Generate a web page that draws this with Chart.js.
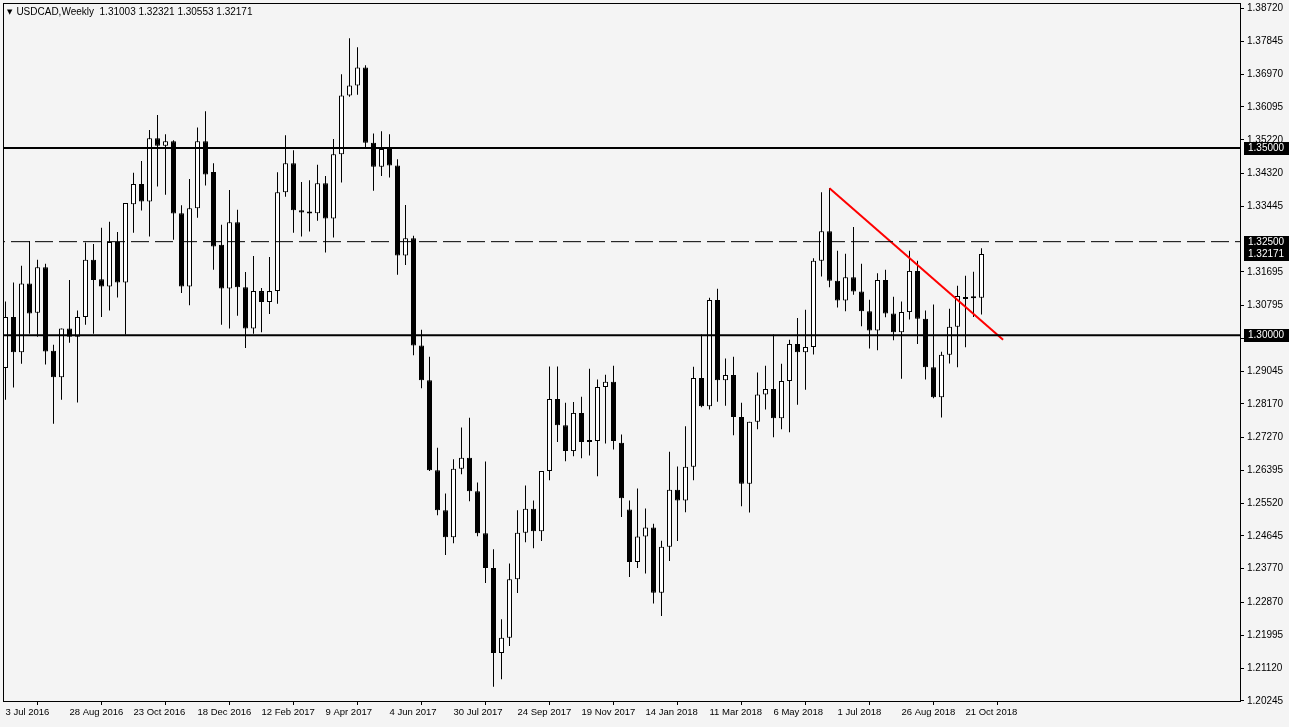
<!DOCTYPE html>
<html>
<head>
<meta charset="utf-8">
<script src="https://cdn.jsdelivr.net/npm/chart.js@4.4.1/dist/chart.umd.min.js"></script>
<style>
  html, body { margin: 0; padding: 0; background: #F4F4F4; }
  #wrap { position: relative; width: 1289px; height: 727px; }
  #title {
    position: absolute; left: 7px; top: 6px;
    font: 10px "Liberation Sans", "DejaVu Sans", sans-serif; color: #000;
    white-space: pre;
  }
  #title .tri { font: 7px "DejaVu Sans", sans-serif; position: relative; top: -1px; margin-right: 4px; }
</style>
</head>
<body>
<div id="wrap">
  <canvas id="chart" width="1289" height="727"></canvas>
  <div id="title"></div>
</div>
<script>
const symbol = 'USDCAD,Weekly';

// weekly candles, 3 Jul 2016 .. 4 Nov 2018
const opens = [
  1.2913,1.3049,1.2955,1.3138,1.3060,1.3182,1.2959,1.2888,1.3018,1.2996,
  1.3049,1.3202,1.3150,1.3130,1.3249,1.3141,1.3350,1.3404,1.3357,1.3526,
  1.3506,1.3518,1.3326,1.3130,1.3339,1.3518,1.3436,1.3242,1.3125,1.3302,
  1.3128,1.3018,1.3118,1.3089,1.3118,1.3382,1.3459,1.3334,1.3329,1.3326,
  1.3406,1.3312,1.3483,1.3640,1.3667,1.3715,1.3514,1.3450,1.3497,1.3453,
  1.3213,1.3259,1.2973,1.2880,1.2640,1.2533,1.2461,1.2644,1.2673,1.2584,
  1.2472,1.2379,1.2152,1.2193,1.2349,1.2473,1.2537,1.2477,1.2638,1.2830,
  1.2760,1.2691,1.2793,1.2719,1.2718,1.2862,1.2876,1.2713,1.2535,1.2395,
  1.2463,1.2487,1.2313,1.2436,1.2588,1.2559,1.2649,1.2886,1.2811,1.3094,
  1.2880,1.2894,1.2782,1.2604,1.2769,1.2842,1.2857,1.2779,1.2878,1.2977,
  1.2955,1.2969,1.3199,1.3278,1.3146,1.3093,1.3155,1.3117,1.3064,1.3013,
  1.3148,1.3058,1.3008,1.3062,1.3172,1.3044,1.2915,1.2835,1.2948,1.3023,
  1.3102,1.3104,1.31003
];
const highs = [
  1.3090,1.3141,1.3186,1.3252,1.3202,1.3191,1.2975,1.3018,1.3148,1.3066,
  1.3248,1.3244,1.3287,1.3303,1.3276,1.3353,1.3434,1.3465,1.3548,1.3588,
  1.3537,1.3521,1.3347,1.3417,1.3555,1.3598,1.3459,1.3295,1.3388,1.3335,
  1.3169,1.3212,1.3126,1.3209,1.3435,1.3534,1.3494,1.3409,1.3414,1.3455,
  1.3425,1.3524,1.3697,1.3793,1.3769,1.3721,1.3539,1.3545,1.3537,1.3470,
  1.3348,1.3266,1.3015,1.2943,1.2700,1.2578,1.2669,1.2754,1.2780,1.2607,
  1.2663,1.2429,1.2242,1.2391,1.2533,1.2599,1.2559,1.2638,1.2917,1.2917,
  1.2820,1.2822,1.2836,1.2911,1.2882,1.2895,1.2919,1.2735,1.2559,1.2591,
  1.2538,1.2497,1.2452,1.2689,1.2650,1.2757,1.2916,1.3002,1.3100,1.3124,
  1.2938,1.2943,1.2820,1.2769,1.2901,1.2919,1.3002,1.2924,1.2988,1.3046,
  1.3068,1.3206,1.3382,1.3393,1.3226,1.3218,1.3289,1.3191,1.3095,1.3166,
  1.3175,1.3103,1.3090,1.3226,1.3199,1.3066,1.3082,1.2956,1.3071,1.3132,
  1.3159,1.3170,1.32321
];
const lows = [
  1.2828,1.2861,1.2924,1.3004,1.2996,1.2922,1.2764,1.2828,1.2980,1.2821,
  1.3028,1.3004,1.3049,1.3066,1.3101,1.3002,1.3274,1.3333,1.3264,1.3397,
  1.3375,1.3255,1.3113,1.3080,1.3314,1.3400,1.3175,1.3028,1.3018,1.3052,
  1.2966,1.3004,1.3008,1.3057,1.3084,1.3370,1.3274,1.3264,1.3277,1.3306,
  1.3221,1.3261,1.3408,1.3637,1.3642,1.3502,1.3386,1.3425,1.3421,1.3162,
  1.3188,1.2947,1.2859,1.2638,1.2520,1.2414,1.2445,1.2629,1.2557,1.2464,
  1.2339,1.2062,1.2082,1.2171,1.2312,1.2448,1.2432,1.2451,1.2613,1.2715,
  1.2664,1.2677,1.2672,1.2679,1.2624,1.2711,1.2695,1.2515,1.2355,1.2379,
  1.2364,1.2284,1.2251,1.2398,1.2451,1.2528,1.2613,1.2808,1.2802,1.2823,
  1.2812,1.2733,1.2544,1.2527,1.2749,1.2802,1.2728,1.2749,1.2741,1.2815,
  1.2855,1.2949,1.3157,1.3128,1.3074,1.3064,1.3108,1.3024,1.2965,1.2960,
  1.3048,1.2987,1.2884,1.3042,1.2977,1.2882,1.2832,1.2781,1.2925,1.2915,
  1.2968,1.3049,1.30553
];
const closes = [
  1.3049,1.2955,1.3138,1.3058,1.3182,1.2957,1.2888,1.3018,1.2996,1.3049,
  1.3202,1.3148,1.3130,1.3249,1.3141,1.3353,1.3404,1.3357,1.3526,1.3506,
  1.3518,1.3325,1.3130,1.3339,1.3518,1.3429,1.3237,1.3125,1.3302,1.3128,
  1.3018,1.3118,1.3089,1.3118,1.3382,1.3459,1.3334,1.3328,1.3325,1.3406,
  1.3312,1.3483,1.3640,1.3667,1.3715,1.3514,1.3450,1.3497,1.3453,1.3213,
  1.3259,1.2973,1.2880,1.2640,1.2533,1.2461,1.2644,1.2673,1.2584,1.2472,
  1.2379,1.2152,1.2193,1.2349,1.2473,1.2537,1.2477,1.2638,1.2830,1.2760,
  1.2691,1.2793,1.2715,1.2715,1.2862,1.2876,1.2718,1.2565,1.2395,1.2463,
  1.2487,1.2313,1.2436,1.2588,1.2559,1.2649,1.2886,1.2811,1.3094,1.2880,
  1.2894,1.2782,1.2604,1.2769,1.2842,1.2857,1.2779,1.2878,1.2977,1.2955,
  1.2969,1.3199,1.3278,1.3146,1.3093,1.3155,1.3117,1.3064,1.3013,1.3148,
  1.3058,1.3008,1.3062,1.3172,1.3044,1.2915,1.2835,1.2948,1.3023,1.3105,
  1.3097,1.3099,1.32171
];

// bottom axis labels (every 8th week)
const dateIdx = [0, 8, 16, 24, 32, 40, 48, 56, 64, 72, 80, 88, 96, 104, 112, 120];
const dateLabels = ['3 Jul 2016', '28 Aug 2016', '23 Oct 2016', '18 Dec 2016', '12 Feb 2017',
  '9 Apr 2017', '4 Jun 2017', '30 Jul 2017', '24 Sep 2017', '19 Nov 2017', '14 Jan 2018',
  '11 Mar 2018', '6 May 2018', '1 Jul 2018', '26 Aug 2018', '21 Oct 2018'];

// price axis labels
const priceTicks = [1.38720, 1.37845, 1.36970, 1.36095, 1.35220, 1.34320, 1.33445,
  1.31695, 1.30795, 1.29920, 1.29045, 1.28170, 1.27270, 1.26395, 1.25520, 1.24645,
  1.23770, 1.22870, 1.21995, 1.21120, 1.20245];

// horizontal levels and the trend line
const solidLevels = [1.35, 1.30];
const dashedLevels = [1.325];
const trendX = [103, 124.7];
const trendY = [1.33926, 1.29883];
const markedPrices = [1.35, 1.325, closes[closes.length - 1], 1.30];

const last = closes.length - 1;
document.getElementById('title').innerHTML =
  '<span class="tri">\u25BC</span>' + symbol + '  ' +
  [opens[last], highs[last], lows[last], closes[last]].map(v => v.toFixed(5)).join(' ');

const X_MIN = -0.3125, X_MAX = 154.3125;
const FONT = '"Liberation Sans", "DejaVu Sans", sans-serif';

const levelLine = (v, dash, width) => ({
  type: 'line',
  data: [{ x: X_MIN - 2, y: v }, { x: X_MAX + 2, y: v }],
  borderColor: '#000',
  borderWidth: width,
  borderDash: dash,
  pointRadius: 0,
  fill: false
});

const bgPlugin = {
  id: 'bg',
  beforeDraw(chart) {
    const ctx = chart.ctx;
    ctx.save();
    ctx.fillStyle = '#F4F4F4';
    ctx.fillRect(0, 0, chart.width, chart.height);
    ctx.restore();
  }
};

const framePlugin = {
  id: 'frame',
  afterDraw(chart) {
    const { ctx, chartArea: a } = chart;
    ctx.save();
    ctx.strokeStyle = '#000';
    ctx.lineWidth = 1;
    ctx.strokeRect(a.left + 0.5, a.top + 0.5, a.right - a.left, a.bottom - a.top);
    // marked prices on the right axis
    const y = chart.scales.y;
    ctx.font = '10px ' + FONT;
    ctx.textBaseline = 'middle';
    ctx.textAlign = 'left';
    markedPrices.forEach(v => {
      const py = Math.round(y.getPixelForValue(v));
      ctx.fillStyle = '#000';
      ctx.fillRect(a.right + 4, py - 6, 45, 13);
      ctx.fillStyle = '#fff';
      ctx.fillText(v.toFixed(5), a.right + 8, py + 0.5);
    });
    ctx.restore();
  }
};

new Chart(document.getElementById('chart'), {
  type: 'bar',
  data: {
    datasets: [
      ...solidLevels.map(v => levelLine(v, [], 2)),
      ...dashedLevels.map(v => levelLine(v, [18, 6], 1)),
      {
        type: 'line',
        data: trendX.map((x, i) => ({ x, y: trendY[i] })),
        borderColor: '#FF0000',
        borderWidth: 2,
        pointRadius: 0,
        fill: false
      },
      {
        // candle bodies
        data: opens.map((o, i) => ({ x: i, y: [o, closes[i]] })),
        grouped: false,
        maxBarThickness: 5,
        minBarLength: 2,
        borderWidth: 1,
        borderSkipped: false,
        borderColor: '#000',
        backgroundColor: ctx => closes[ctx.dataIndex] >= opens[ctx.dataIndex] ? '#FFFFFF' : '#000000'
      },
      {
        // wicks
        data: lows.map((l, i) => ({ x: i, y: [l, highs[i]] })),
        grouped: false,
        maxBarThickness: 1,
        borderWidth: 0,
        backgroundColor: '#000'
      }
    ]
  },
  options: {
    responsive: false,
    devicePixelRatio: 1,
    animation: false,
    events: [],
    layout: { padding: { left: 3, top: 3, right: 0, bottom: 0 } },
    plugins: { legend: { display: false }, tooltip: { enabled: false } },
    scales: {
      x: {
        type: 'linear',
        min: X_MIN,
        max: X_MAX,
        offset: false,
        afterBuildTicks: s => { s.ticks = dateIdx.map(v => ({ value: v })); },
        afterFit: s => { s.height = 26; s.paddingLeft = 0; s.paddingRight = 0; },
        grid: { drawOnChartArea: false, drawTicks: true, tickLength: 4, color: '#000' },
        border: { display: false },
        ticks: {
          autoSkip: false,
          maxRotation: 0,
          align: 'start',
          padding: 2,
          color: '#000',
          font: { family: FONT, size: 9.5 },
          callback: v => dateLabels[dateIdx.indexOf(v)]
        }
      },
      y: {
        type: 'linear',
        position: 'right',
        min: 1.2024,
        max: 1.3887,
        afterBuildTicks: s => { s.ticks = priceTicks.map(v => ({ value: v })); },
        afterFit: s => { s.width = 49; s.paddingTop = 0; s.paddingBottom = 0; },
        grid: { drawOnChartArea: false, drawTicks: true, tickLength: 4, color: '#000' },
        border: { display: false },
        ticks: {
          autoSkip: false,
          padding: 3,
          color: '#000',
          font: { family: FONT, size: 10 },
          callback: v => v.toFixed(5)
        }
      }
    }
  },
  plugins: [bgPlugin, framePlugin]
});
</script>
</body>
</html>
